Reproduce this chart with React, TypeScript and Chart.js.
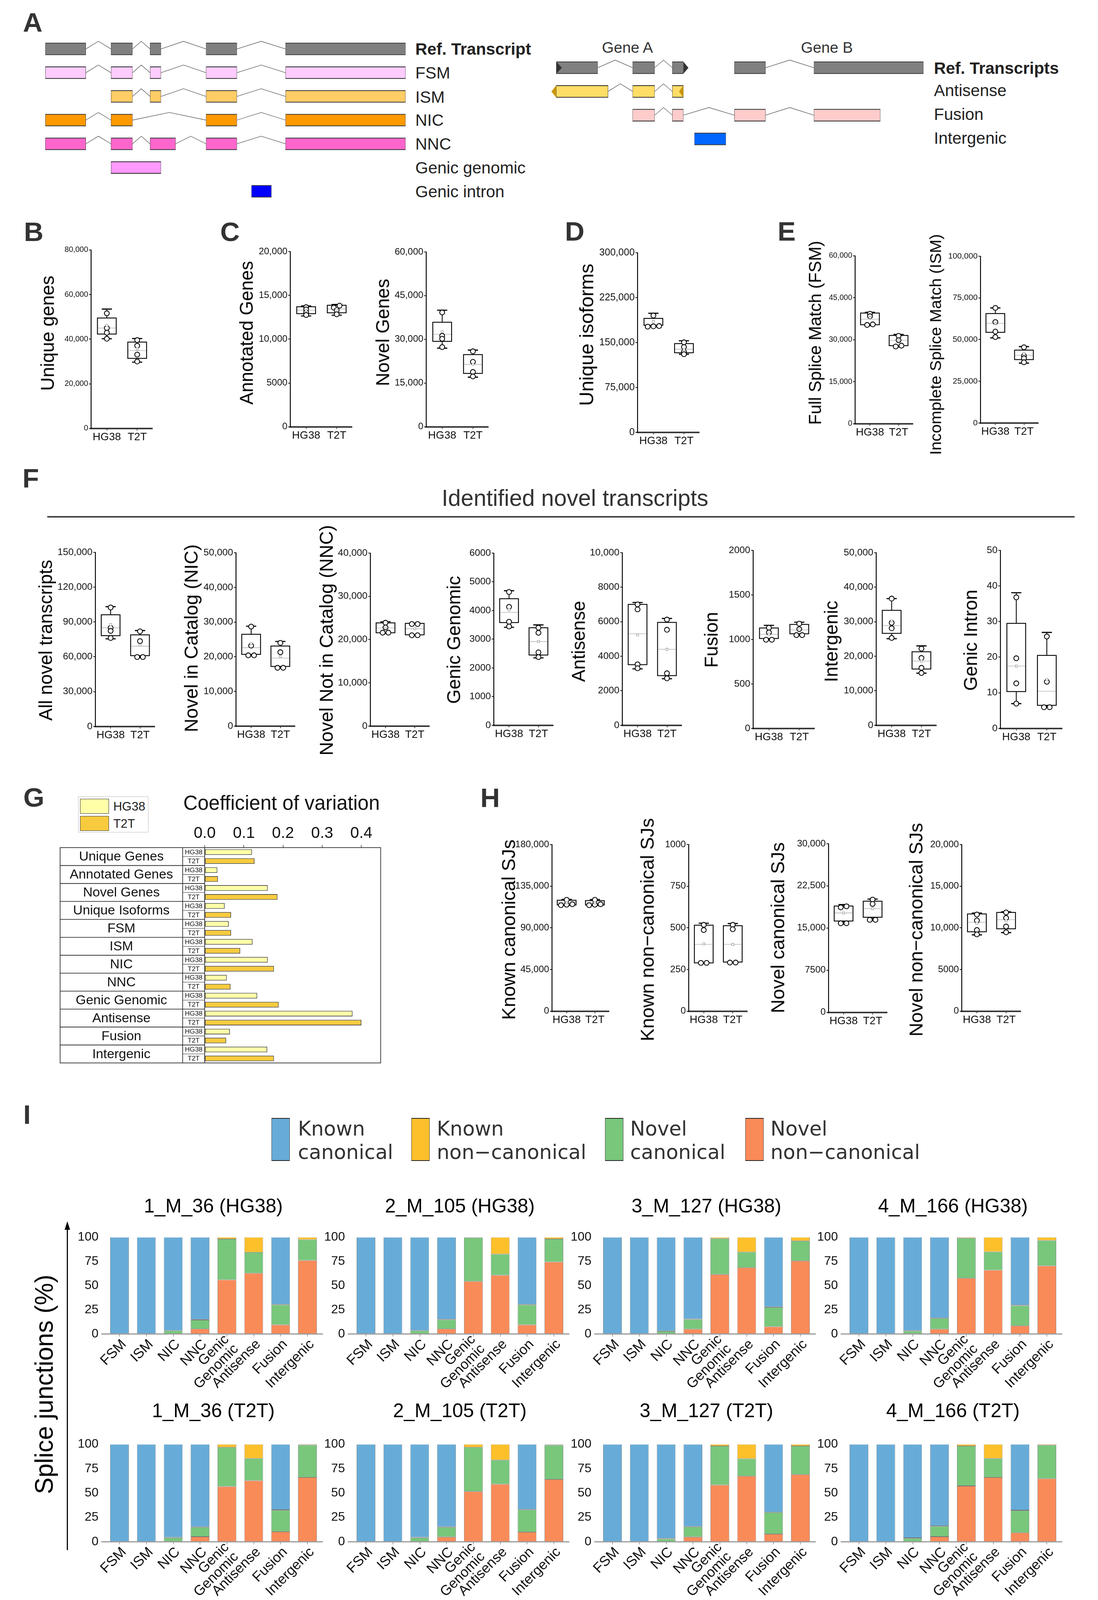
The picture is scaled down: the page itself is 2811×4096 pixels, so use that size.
import React, { useEffect, useRef } from 'react';
import { Chart, registerables } from 'chart.js';

Chart.register(...registerables);

const K = 2811 / 1076;
const px = (v: number) => v * K;
const SANS = '"Liberation Sans", Arial, Helvetica, sans-serif';
const DEJA = '"DejaVu Sans", "Liberation Sans", sans-serif';
Chart.defaults.font.family = SANS;
Chart.defaults.color = '#1a1a1a';

// ---------------- Panel A : transcript schematics (arbitrary genomic units) ----------------
const schemLeftRows = ['Ref. Transcript', 'FSM', 'ISM', 'NIC', 'NNC', 'Genic genomic', 'Genic intron'];
const schemLeftExons = [
  [[[0, 39.6], [64.3, 85.4], [102.6, 113.3], [157.5, 187.7], [235.4, 353]]],
  [[[0, 39.6], [64.3, 85.4], [102.6, 113.3], [157.5, 187.7], [235.4, 353]]],
  [[[64.3, 85.4], [102.6, 113.3], [157.5, 187.7], [235.4, 353]]],
  [[[0, 39.6], [64.3, 85.4], [157.5, 187.7], [235.4, 353]]],
  [[[0, 39.6], [64.3, 85.4], [102.6, 127.6], [157.5, 187.7], [235.4, 353]]],
  [[[64.3, 113.3]]],
  [[[202, 221.5]]],
];
const schemLeftColors = ['#808080', '#FFCCFF', '#FFCC66', '#FF9900', '#FF66CC', '#FF99FF', '#0000FF'];
const schemRightRows = ['Ref. Transcripts', 'Antisense', 'Fusion', 'Intergenic'];
const schemRightExons = [
  [[[5.1, 45.8], [80, 101.6], [118.9, 129.7]], [[179.8, 210.3], [257.7, 365]]],
  [[[5.1, 55.9], [80, 101.6], [118.9, 129.7]]],
  [[[80, 101.6], [118.9, 129.7], [179.8, 210.3], [257.7, 322.7]]],
  [[[140.6, 171.4]]],
];
const schemRightStrand = [['+', ''], ['-'], [''], ['']];
const schemRightColors = ['#808080', '#FFDD66', '#FFCCCC', '#0066FF'];
const geneNames = ['Gene A', 'Gene B'];

// ---------------- Box plot panels (B-F, H) ----------------
const BOX_GROUPS = ['HG38', 'T2T'];
const BOX_POS = [0.258, 0.755];

const uniqueGenesPts = [[51600, 45000, 42900, 40200], [39600, 37100, 33100, 30000]];
const uniqueGenesBox = [[40200, 42300, 45000, 49500, 53500], [29700, 31400, 34900, 38700, 40300]];
const uniqueGenesMean = [46200, 35600];

const annotatedGenesPts = [[13650, 13390, 13050, 12760], [13820, 13600, 13300, 12840]];
const annotatedGenesBox = [[12650, 12910, 13300, 13700, 13790], [12740, 13010, 13440, 13870, 13960]];
const annotatedGenesMean = [13300, 13440];

const novelGenesPts = [[39240, 31230, 30200, 27360], [25900, 22300, 18840, 17300]];
const novelGenesBox = [[27000, 29320, 31750, 35880, 40000], [17040, 18330, 21420, 24780, 26330]];
const novelGenesMean = [32630, 21420];

const isoformsPts = [[195100, 177000, 176500, 177500], [150300, 142400, 134500, 130500]];
const isoformsBox = [[176600, 178700, 179800, 190300, 198800], [130500, 132900, 138700, 148200, 152900]];
const isoformsMean = [185100, 138700];

const fsmPts = [[39300, 38400, 35500, 35300], [31400, 29860, 27900, 27600]];
const fsmBox = [[35100, 35380, 37350, 39550, 39830], [27440, 27890, 29800, 31550, 31900]];
const fsmMean = [38000, 29800];

const ismPts = [[69000, 60500, 54800, 51500], [45400, 40200, 38800, 36400]];
const ismBox = [[51000, 54350, 59700, 65600, 69000], [35900, 38000, 40600, 43670, 45800]];
const ismMean = [59700, 41600];

const allNovelPts = [[102500, 85000, 82300, 76200], [81900, 73500, 59800, 59800]];
const allNovelBox = [[75500, 78200, 85000, 96200, 103200], [59400, 61000, 69100, 78900, 82600]];
const allNovelMean = [87700, 70100];

const nicPts = [[28700, 23200, 20400, 20400], [24000, 21300, 16800, 16800]];
const nicBox = [[20360, 20680, 22600, 26470, 28800], [16700, 17200, 19600, 23080, 24400]];
const nicMean = [23800, 20100];

const nncPts = [[23900, 22800, 21600, 21600], [23600, 23600, 21000, 21000]];
const nncBox = [[21400, 21570, 22700, 23860, 24100], [21000, 21100, 22500, 23750, 23800]];
const nncMean = [22700, 22500];

const genicGenomicPts = [[4645, 4126, 3607, 3443], [3399, 3224, 2541, 2377]];
const genicGenomicBox = [[3415, 3579, 3934, 4410, 4689], [2350, 2448, 2918, 3399, 3497]];
const genicGenomicMean = [4016, 2918];

const antisensePts = [[7005, 6715, 3530, 3303], [6125, 5535, 3013, 2722]];
const antisenseBox = [[3267, 3512, 5300, 7005, 7114], [2695, 2877, 4401, 5962, 6189]];
const antisenseMean = [5236, 4401];

const fusionPts = [[1131, 1078, 996, 996], [1177, 1115, 1048, 1048]];
const fusionBox = [[996, 1010, 1057, 1128, 1158], [1048, 1063, 1107, 1168, 1193]];
const fusionMean = [1057, 1107];

const intergenicPts = [[36700, 29700, 28100, 25300], [22200, 19500, 16650, 15150]];
const intergenicBox = [[25100, 26630, 28900, 33300, 36700], [15100, 16300, 18600, 21300, 23000]];
const intergenicMean = [30260, 18600];

const genicIntronPts = [[36.8, 19.7, 12.65, 6.96], [25.8, 13.1, 5.95, 5.95]];
const genicIntronBox = [[6.96, 10.35, 17.5, 29.5, 38.1], [5.95, 6.48, 10.44, 20.5, 26.96]];
const genicIntronMean = [17.5, 13.7];

const knownCanPts = [[120300, 115500, 115000, 114500], [120300, 115500, 115000, 114500]];
const knownCanBox = [[114300, 114700, 117100, 119800, 120700], [114300, 114700, 117000, 119400, 120500]];
const knownCanMean = [117100, 117000];

const knownNonCanPts = [[518, 487, 290, 290], [518, 492, 292, 292]];
const knownNonCanBox = [[287, 290, 401, 516, 528], [292, 295, 401, 513, 526]];
const knownNonCanMean = [404, 401];

const novelCanPts = [[18860, 18680, 15850, 15850], [20060, 19290, 16460, 16460]];
const novelCanBox = [[15690, 16250, 17690, 18920, 19170], [16370, 16920, 18460, 19780, 20150]];
const novelCanMean = [17690, 18460];

const novelNonCanPts = [[11600, 10880, 9740, 9220], [11850, 11190, 10160, 9470]];
const novelNonCanBox = [[9160, 9530, 10670, 11670, 11770], [9430, 9890, 10980, 11850, 11920]];
const novelNonCanMean = [10560, 10820];

const boxPanels = [
  { title: 'Unique genes', ymax: 80000, step: 20000, pts: uniqueGenesPts, box: uniqueGenesBox, mean: uniqueGenesMean },
  { title: 'Annotated Genes', ymax: 20000, step: 5000, pts: annotatedGenesPts, box: annotatedGenesBox, mean: annotatedGenesMean },
  { title: 'Novel Genes', ymax: 60000, step: 15000, pts: novelGenesPts, box: novelGenesBox, mean: novelGenesMean },
  { title: 'Unique isoforms', ymax: 300000, step: 75000, pts: isoformsPts, box: isoformsBox, mean: isoformsMean },
  { title: 'Full Splice Match (FSM)', ymax: 60000, step: 15000, pts: fsmPts, box: fsmBox, mean: fsmMean },
  { title: 'Incomplete Splice Match (ISM)', ymax: 100000, step: 25000, pts: ismPts, box: ismBox, mean: ismMean },
  { title: 'All novel transcripts', ymax: 150000, step: 30000, pts: allNovelPts, box: allNovelBox, mean: allNovelMean },
  { title: 'Novel in Catalog (NIC)', ymax: 50000, step: 10000, pts: nicPts, box: nicBox, mean: nicMean },
  { title: 'Novel Not in Catalog (NNC)', ymax: 40000, step: 10000, pts: nncPts, box: nncBox, mean: nncMean },
  { title: 'Genic Genomic', ymax: 6000, step: 1000, pts: genicGenomicPts, box: genicGenomicBox, mean: genicGenomicMean },
  { title: 'Antisense', ymax: 10000, step: 2000, pts: antisensePts, box: antisenseBox, mean: antisenseMean },
  { title: 'Fusion', ymax: 2000, step: 500, pts: fusionPts, box: fusionBox, mean: fusionMean },
  { title: 'Intergenic', ymax: 50000, step: 10000, pts: intergenicPts, box: intergenicBox, mean: intergenicMean },
  { title: 'Genic Intron', ymax: 50, step: 10, pts: genicIntronPts, box: genicIntronBox, mean: genicIntronMean },
  { title: 'Known canonical SJs', ymax: 180000, step: 45000, pts: knownCanPts, box: knownCanBox, mean: knownCanMean },
  { title: 'Known non\u2212canonical SJs', ymax: 1000, step: 250, pts: knownNonCanPts, box: knownNonCanBox, mean: knownNonCanMean },
  { title: 'Novel canonical SJs', ymax: 30000, step: 7500, pts: novelCanPts, box: novelCanBox, mean: novelCanMean },
  { title: 'Novel non\u2212canonical SJs', ymax: 20000, step: 5000, pts: novelNonCanPts, box: novelNonCanBox, mean: novelNonCanMean },
];
// layout: [axisX, topTickY, zeroY, axisRightX, titleCX, titleCY, titleFont, tickFont] in reference-thumbnail units
const boxLayout = [
  [89.1, 245, 419.7, 148.8, 48.3, 326.5, 18.3, 7.6],
  [284.5, 246.5, 418.3, 344.6, 243, 326, 18.1, 9.2],
  [417.5, 247, 418.3, 478, 376.7, 325.6, 18.2, 9.2],
  [624.9, 247.5, 423.4, 685.2, 576.8, 328, 19.3, 9.6],
  [838, 250.6, 415.2, 894.4, 800.5, 326, 16.9, 7.5],
  [960.7, 250.9, 414.4, 1017, 918.2, 337.5, 15.9, 8.0],
  [93.6, 541.2, 712, 151.7, 46.3, 627.5, 18.2, 9.5],
  [231.1, 541.5, 711.3, 288.6, 188.8, 625.6, 18.4, 9.5],
  [362.9, 541.8, 711.3, 420.3, 321.3, 627.5, 18.4, 9.5],
  [483.9, 541.8, 710.5, 542, 446.4, 627, 18.2, 9.5],
  [610, 541.5, 710.8, 668, 568.5, 628.5, 18.1, 9.5],
  [738.2, 539.2, 713.6, 797.9, 698.8, 627, 18.2, 9.5],
  [858.6, 541.5, 710.8, 917.5, 816.1, 628.7, 18.2, 9.5],
  [980.5, 539.2, 713.6, 1040.9, 953, 627.5, 18.2, 9.5],
  [541, 827.6, 991.1, 596.6, 500, 911, 18.6, 9.2],
  [674.9, 827.6, 991.1, 732, 636.1, 911, 18.6, 9.2],
  [812, 826.7, 991.9, 869.2, 763.9, 909, 18.6, 9.2],
  [942.5, 827.6, 991.1, 1000, 899.2, 911, 18.6, 9.2],
];

// ---------------- Panel G : coefficient of variation ----------------
const cvCategories = ['Unique Genes', 'Annotated Genes', 'Novel Genes', 'Unique Isoforms', 'FSM', 'ISM', 'NIC', 'NNC', 'Genic Genomic', 'Antisense', 'Fusion', 'Intergenic'];
const cvHG38 = [0.1206, 0.0322, 0.161, 0.0509, 0.0614, 0.1221, 0.161, 0.0562, 0.1341, 0.3775, 0.0644, 0.1596];
const cvT2T = [0.1273, 0.0337, 0.1858, 0.0674, 0.0674, 0.0906, 0.1768, 0.0659, 0.1888, 0.4, 0.0547, 0.1768];
const cvTicks = [0, 0.1, 0.2, 0.3, 0.4];

// ---------------- Panel I : splice junction composition ----------------
const sjCategories = ['FSM', 'ISM', 'NIC', 'NNC', ['Genic', 'Genomic'], 'Antisense', 'Fusion', 'Intergenic'];
const sjSamples = ['1_M_36 (HG38)', '2_M_105 (HG38)', '3_M_127 (HG38)', '4_M_166 (HG38)', '1_M_36 (T2T)', '2_M_105 (T2T)', '3_M_127 (T2T)', '4_M_166 (T2T)'];
const sjKnownCanonical = [
  [100, 100, 96.5, 85, 0, 0, 69.4, 0],
  [100, 100, 96.5, 84.7, 0, 0, 69.4, 0],
  [100, 100, 96.9, 84.5, 0, 0, 72, 0],
  [100, 100, 96.5, 83.5, 0, 0, 70.2, 0],
  [100, 100, 95.5, 84.7, 0, 0, 67.1, 0],
  [100, 100, 95.4, 84.5, 0, 0, 66.8, 0.3],
  [100, 100, 96.5, 84.3, 0, 0, 69.6, 0],
  [100, 100, 96, 83.6, 0, 0, 67.5, 0],
];
const sjKnownNonCanonical = [
  [0, 0, 0, 0.5, 1.8, 15.5, 0.4, 2.4],
  [0, 0, 0, 0.5, 0.5, 17.4, 0.4, 1.8],
  [0, 0, 0.3, 0.4, 1.3, 15.3, 0.5, 3.8],
  [0, 0, 0.4, 0.3, 0.9, 15, 0.5, 3.3],
  [0, 0, 0.4, 0.4, 3.1, 14.5, 0.5, 0.8],
  [0, 0, 0.5, 0.6, 3.1, 16.1, 0.4, 0.5],
  [0, 0, 0.5, 0.4, 1.8, 14.8, 0.3, 1.8],
  [0, 0, 0.5, 0.5, 1.8, 14.5, 0.4, 0.9],
];
const sjNovelCanonical = [
  [0, 0, 3.5, 9.3, 42.2, 21.6, 20.7, 21.5],
  [0, 0, 3.5, 9.6, 45.1, 21.8, 20.7, 23.7],
  [0, 0, 2.8, 10.1, 37.2, 16.1, 20, 20.6],
  [0, 0, 3.1, 11.2, 41.4, 19, 20.9, 26.2],
  [0, 0, 4.1, 9.7, 40.2, 22.8, 22, 33.1],
  [0, 0, 4.1, 10, 45.3, 24.8, 22.8, 35.1],
  [0, 0, 3, 10.4, 39.9, 17.8, 22.1, 29.2],
  [0, 0, 3.5, 10.7, 40.9, 19.4, 22.8, 34.3],
];
const sjNovelNonCanonical = [
  [0, 0, 0, 5.2, 56, 62.9, 9.5, 76.1],
  [0, 0, 0, 5.2, 54.4, 60.8, 9.5, 74.5],
  [0, 0, 0, 5, 61.5, 68.6, 7.5, 75.6],
  [0, 0, 0, 5, 57.7, 66, 8.4, 70.5],
  [0, 0, 0, 5.2, 56.7, 62.7, 10.4, 66.1],
  [0, 0, 0, 4.9, 51.6, 59.1, 10, 64.1],
  [0, 0, 0, 4.9, 58.3, 67.4, 8, 69],
  [0, 0, 0, 5.2, 57.3, 66.1, 9.3, 64.8],
];
const sjSeriesNames = [['Known', 'canonical'], ['Known', 'non\u2212canonical'], ['Novel', 'canonical'], ['Novel', 'non\u2212canonical']];
const SJ_COLORS = ['#67ACD8', '#FDC02B', '#78C77B', '#F98B58'];

// ---------------- helpers ----------------
const baseOpts = () => ({
  animation: false,
  responsive: false,
  maintainAspectRatio: false,
  devicePixelRatio: 1,
  events: [],
  plugins: { legend: { display: false }, tooltip: { enabled: false }, title: { display: false } },
});

function ChartBox({ l, t, w, h, factory }: any) {
  const ref = useRef<HTMLCanvasElement | null>(null);
  useEffect(() => {
    if (!ref.current) return;
    const chart = new Chart(ref.current, factory());
    return () => chart.destroy();
  }, []);
  const W = Math.round(w), H = Math.round(h);
  return <canvas ref={ref} width={W} height={H} style={{ position: 'absolute', left: Math.round(l), top: Math.round(t), width: W, height: H }} />;
}

function Txt({ x, y, fs, children, bold = false, anchor = 'start', family = SANS, color = '#222' }: any) {
  return (
    <div style={{
      position: 'absolute', left: px(x), top: px(y) - 0.8465 * px(fs), fontFamily: family, fontSize: px(fs),
      lineHeight: `${px(fs)}px`, fontWeight: bold ? 700 : 400, color, whiteSpace: 'nowrap',
      transform: anchor === 'middle' ? 'translateX(-50%)' : undefined,
    }}>{children}</div>
  );
}

function VTxt({ cx, cy, fs, children, family = SANS }: any) {
  return (
    <div style={{
      position: 'absolute', left: px(cx - 0.09 * fs), top: px(cy), fontFamily: family, fontSize: px(fs),
      lineHeight: `${px(fs)}px`, color: '#000', whiteSpace: 'nowrap', transform: 'translate(-50%, -50%) rotate(-90deg)',
    }}>{children}</div>
  );
}

function jitter(vals: number[], thr: number, step: number) {
  const idx = vals.map((_, i) => i).sort((a, b) => vals[a] - vals[b]);
  const offs = vals.map(() => 0);
  let cluster = [idx[0]];
  const flush = () => { const n = cluster.length; cluster.forEach((k, j) => { offs[k] = (j - (n - 1) / 2) * step; }); };
  for (let t = 1; t < idx.length; t++) {
    if (vals[idx[t]] - vals[idx[t - 1]] < thr) cluster.push(idx[t]);
    else { flush(); cluster = [idx[t]]; }
  }
  flush();
  return offs;
}

const fmtTick = (v: number) => (v >= 10000 ? v.toLocaleString('en-US') : String(v));

// ---------------- schematic ----------------
function Schematic({ exons, colors, strands, xMin, xMax, left, top, pitch }: any) {
  const w = px(xMax - xMin), h = px(pitch * exons.length);
  const factory = () => {
    const flat = exons.map((r: any) => r.flat());
    const nMax = Math.max(...flat.map((r: any) => r.length));
    const datasets: any[] = [];
    for (let j = 0; j < nMax; j++) {
      datasets.push({
        data: flat.map((r: any) => (r[j] ? r[j] : null)),
        backgroundColor: colors,
        borderColor: '#3a3a3a',
        borderWidth: { top: px(0.85), bottom: px(0.85), left: px(0.35), right: px(0.35) },
        borderSkipped: false,
        barThickness: px(12),
        grouped: false,
      });
    }
    const intronPlugin = {
      id: 'introns',
      afterDatasetsDraw(chart: any) {
        const { ctx, scales: { x, y } } = chart;
        const half = px(6);
        ctx.save();
        ctx.strokeStyle = '#5a5a5a';
        ctx.lineWidth = px(0.5);
        exons.forEach((row: any, ri: number) => {
          const yc = y.getPixelForValue(ri);
          row.forEach((tx: any, ti: number) => {
            for (let k = 0; k + 1 < tx.length; k++) {
              const xa = x.getPixelForValue(tx[k][1]);
              const xb = x.getPixelForValue(tx[k + 1][0]);
              ctx.beginPath();
              ctx.moveTo(xa, yc);
              ctx.lineTo((xa + xb) / 2, yc - half - px(1.5));
              ctx.lineTo(xb, yc);
              ctx.stroke();
            }
            const st = strands && strands[ri] ? strands[ri][ti] : '';
            if (st) {
              const x0 = x.getPixelForValue(tx[0][0]);
              const x1 = x.getPixelForValue(tx[tx.length - 1][1]);
              const tri = (a: number, b: number, col: string) => {
                ctx.fillStyle = col;
                ctx.beginPath();
                ctx.moveTo(a, yc - half);
                ctx.lineTo(b, yc);
                ctx.lineTo(a, yc + half);
                ctx.closePath();
                ctx.fill();
              };
              if (st === '+') { tri(x0, x0 + px(5.5), '#333'); tri(x1, x1 + px(5), '#333'); }
              else { tri(x0, x0 - px(4.7), '#C8960C'); tri(x1, x1 - px(4.2), '#C8960C'); }
            }
          });
        });
        ctx.restore();
      },
    };
    return {
      type: 'bar',
      data: { labels: exons.map((_: any, i: number) => String(i)), datasets },
      options: {
        ...baseOpts(),
        indexAxis: 'y',
        layout: { padding: 0 },
        scales: {
          x: { type: 'linear', min: xMin, max: xMax, display: false },
          y: { type: 'category', display: false, offset: true },
        },
      },
      plugins: [intronPlugin],
    };
  };
  return <ChartBox l={px(left)} t={px(top)} w={w} h={h} factory={factory} />;
}

// ---------------- box plot ----------------
function BoxPlot({ spec, L }: any) {
  const [ax, tp, zr, rt] = L;
  const YW = px(46), PT = px(8), PR = px(4), XH = px(20);
  const l = Math.round(px(ax) - YW), t = Math.round(px(tp) - PT);
  const w = YW + px(rt - ax) + PR, h = PT + px(zr - tp) + XH;
  const factory = () => {
    const len = rt - ax;
    const thr = (spec.ymax * 2.2) / (zr - tp);
    const stepU = 5.6 / len;
    const pts: any[] = [];
    spec.pts.forEach((g: number[], gi: number) => {
      const offs = jitter(g, thr, stepU);
      g.forEach((v, k) => pts.push({ x: BOX_POS[gi] + offs[k], y: v }));
    });
    const means = spec.mean.map((m: number, i: number) => ({ x: BOX_POS[i], y: m }));
    const boxPlugin = {
      id: 'boxes',
      beforeDatasetsDraw(chart: any) {
        const { ctx, scales: { x, y } } = chart;
        const hw = px(9.2), cw = px(5);
        spec.box.forEach((s: number[], i: number) => {
          const cx = x.getPixelForValue(BOX_POS[i]);
          const [mn, q1, md, q3, mx] = s.map((v) => y.getPixelForValue(v));
          ctx.save();
          ctx.strokeStyle = '#000';
          ctx.lineWidth = px(0.8);
          ctx.beginPath();
          ctx.moveTo(cx, q3); ctx.lineTo(cx, mx);
          ctx.moveTo(cx, q1); ctx.lineTo(cx, mn);
          ctx.stroke();
          ctx.lineWidth = px(1.1);
          ctx.beginPath();
          ctx.moveTo(cx - cw, mx); ctx.lineTo(cx + cw, mx);
          ctx.moveTo(cx - cw, mn); ctx.lineTo(cx + cw, mn);
          ctx.stroke();
          ctx.fillStyle = '#fff';
          ctx.fillRect(cx - hw, q3, 2 * hw, q1 - q3);
          ctx.lineWidth = px(0.85);
          ctx.strokeRect(cx - hw, q3, 2 * hw, q1 - q3);
          ctx.strokeStyle = '#b8b8b8';
          ctx.lineWidth = px(0.6);
          ctx.beginPath();
          ctx.moveTo(cx - hw + px(0.5), md); ctx.lineTo(cx + hw - px(0.5), md);
          ctx.stroke();
          ctx.restore();
        });
      },
    };
    return {
      type: 'scatter',
      data: {
        datasets: [
          { data: means, pointStyle: 'rect', radius: px(1.5), backgroundColor: '#fff', borderColor: '#9a9a9a', borderWidth: px(0.5) },
          { data: pts, pointStyle: 'circle', radius: px(2.4), backgroundColor: '#fff', borderColor: '#000', borderWidth: px(0.8) },
        ],
      },
      options: {
        ...baseOpts(),
        layout: { padding: { top: PT, right: PR, left: 0, bottom: 0 } },
        scales: {
          x: {
            type: 'linear', min: 0, max: 1,
            afterBuildTicks: (s: any) => { s.ticks = BOX_POS.map((v) => ({ value: v })); },
            afterFit: (s: any) => { s.height = XH; },
            ticks: {
              autoSkip: false, maxRotation: 0, padding: px(0.2), color: '#111',
              font: { size: px(10.6) },
              callback: (v: number) => (Math.abs(v - BOX_POS[0]) < 1e-6 ? BOX_GROUPS[0] : BOX_GROUPS[1]),
            },
            grid: { display: true, drawOnChartArea: false, drawTicks: true, tickLength: px(2), color: '#333', lineWidth: px(0.7) },
            border: { display: true, color: '#3a3a3a', width: px(1.5) },
          },
          y: {
            type: 'linear', min: 0, max: spec.ymax,
            afterFit: (s: any) => { s.width = YW; },
            ticks: { stepSize: spec.step, padding: px(0.8), color: '#111', font: { size: px(L[7]) }, callback: (v: number) => fmtTick(v) },
            grid: { display: true, drawOnChartArea: false, drawTicks: true, tickLength: px(2), color: '#000', lineWidth: px(0.7) },
            border: { display: true, color: '#000', width: px(0.9) },
          },
        },
      },
      plugins: [boxPlugin],
    };
  };
  return <ChartBox l={l} t={t} w={w} h={h} factory={factory} />;
}

// ---------------- panel G ----------------
function CVChart() {
  const areaL = 200.6, areaR = 373, areaT = 830.5, areaB = 1041.5, tableL = 58.9, subW = 21.6;
  const PL = px(3), YW = px(areaL - tableL), TOP = 803;
  const l = px(tableL) - PL, t = px(TOP);
  const w = PL + YW + px(areaR - areaL) + px(4), h = px(areaT - TOP) + px(areaB - areaT) + px(3);
  const factory = () => {
    const tablePlugin = {
      id: 'cvtable',
      afterDraw(chart: any) {
        const { ctx, chartArea: a } = chart;
        const L0 = a.left - YW, Lm = a.left - px(subW);
        const n = cvCategories.length, rh = (a.bottom - a.top) / n;
        ctx.save();
        ctx.strokeStyle = '#333';
        ctx.lineWidth = px(0.7);
        ctx.strokeRect(L0, a.top, a.right - L0, a.bottom - a.top);
        ctx.beginPath();
        ctx.moveTo(Lm, a.top); ctx.lineTo(Lm, a.bottom);
        ctx.moveTo(a.left, a.top); ctx.lineTo(a.left, a.bottom);
        for (let i = 1; i < n; i++) { ctx.moveTo(L0, a.top + i * rh); ctx.lineTo(a.left, a.top + i * rh); }
        ctx.stroke();
        ctx.lineWidth = px(0.5);
        ctx.strokeStyle = '#555';
        ctx.beginPath();
        for (let i = 0; i < n; i++) { ctx.moveTo(Lm, a.top + (i + 0.5) * rh); ctx.lineTo(a.left, a.top + (i + 0.5) * rh); }
        ctx.stroke();
        ctx.fillStyle = '#111';
        ctx.textAlign = 'center';
        ctx.textBaseline = 'middle';
        ctx.font = `${px(13)}px ${SANS}`;
        cvCategories.forEach((c, i) => ctx.fillText(c, (L0 + Lm) / 2, a.top + (i + 0.5) * rh + px(0.5)));
        ctx.font = `${px(6.6)}px ${SANS}`;
        cvCategories.forEach((_, i) => {
          ctx.fillText('HG38', (Lm + a.left) / 2, a.top + (i + 0.25) * rh + px(0.3));
          ctx.fillText('T2T', (Lm + a.left) / 2, a.top + (i + 0.75) * rh + px(0.3));
        });
        ctx.restore();
      },
    };
    const ds = (data: number[], color: string) => ({
      data, backgroundColor: color, borderColor: '#333', borderWidth: px(0.6), borderSkipped: false,
      categoryPercentage: 1, barPercentage: 0.62,
    });
    return {
      type: 'bar',
      data: { labels: cvCategories, datasets: [ds(cvHG38, '#FFFFA8'), ds(cvT2T, '#F8CB3E')] },
      options: {
        ...baseOpts(),
        indexAxis: 'y',
        layout: { padding: { left: PL, right: px(4), top: 0, bottom: px(3) } },
        scales: {
          x: {
            type: 'linear', position: 'top', min: 0, max: (areaR - areaL) / 383.6,
            afterBuildTicks: (s: any) => { s.ticks = cvTicks.map((v) => ({ value: v })); },
            afterFit: (s: any) => { s.height = px(areaT - TOP); },
            ticks: { padding: px(2), color: '#111', font: { size: px(15.5) }, callback: (v: number) => v.toFixed(1) },
            grid: { display: true, drawOnChartArea: false, drawTicks: true, tickLength: px(2.5), color: '#444', lineWidth: px(0.6) },
            border: { display: false },
          },
          y: {
            type: 'category', offset: true,
            afterFit: (s: any) => { s.width = YW; },
            ticks: { display: false },
            grid: { display: false },
            border: { display: false },
          },
        },
      },
      plugins: [tablePlugin],
    };
  };
  return <ChartBox l={l} t={t} w={w} h={h} factory={factory} />;
}

// ---------------- panel I ----------------
const SJ_ROW_TOP = [1205.8, 1408.6];
const SJ_ROW_BOTTOM = [1307.3, 1510.9];
const SJ_LEFT0 = 103.9, SJ_PITCH_COL = 241.6, SJ_WIDTH = 210.3;

function SJChart({ k }: any) {
  const col = k % 4, row = Math.floor(k / 4);
  const aL = SJ_LEFT0 + col * SJ_PITCH_COL, aT = SJ_ROW_TOP[row], aB = SJ_ROW_BOTTOM[row];
  const YW = px(32), PT = px(8), PR = px(14), XH = px(80);
  const l = px(aL) - YW, t = px(aT) - PT;
  const w = YW + px(SJ_WIDTH) + PR, h = PT + px(aB - aT) + XH;
  const factory = () => {
    const series = [sjNovelNonCanonical[k], sjNovelCanonical[k], sjKnownNonCanonical[k], sjKnownCanonical[k]];
    const colors = [SJ_COLORS[3], SJ_COLORS[2], SJ_COLORS[1], SJ_COLORS[0]];
    const axisDecor = {
      id: 'axisDecor',
      afterDatasetsDraw(chart: any) {
        const { ctx, chartArea: a, scales: { x } } = chart;
        ctx.save();
        ctx.strokeStyle = '#9a9a9a';
        ctx.lineWidth = px(1.2);
        ctx.beginPath();
        ctx.moveTo(a.left - px(4.7), a.bottom);
        ctx.lineTo(a.right + px(2), a.bottom);
        ctx.stroke();
        const fs = px(13.8);
        const lh = fs * 0.95;
        ctx.fillStyle = '#111';
        ctx.font = `${fs}px ${SANS}`;
        ctx.textAlign = 'right';
        ctx.textBaseline = 'middle';
        sjCategories.forEach((c: any, i: number) => {
          const lines = Array.isArray(c) ? c : [c];
          const xt = x.getPixelForTick(i);
          ctx.save();
          ctx.translate(xt + px(4.5), a.bottom + px(8));
          ctx.rotate(-Math.PI / 4);
          lines.forEach((ln: string, j: number) => ctx.fillText(ln, 0, (j - (lines.length - 1) / 2) * lh));
          ctx.restore();
        });
        ctx.restore();
      },
    };
    return {
      type: 'bar',
      data: {
        labels: sjCategories,
        datasets: series.map((d, i) => ({
          data: d, backgroundColor: colors[i], borderColor: 'rgba(70,70,70,0.75)', borderWidth: px(0.35),
          borderSkipped: false, categoryPercentage: 1, barPercentage: 0.696,
        })),
      },
      options: {
        ...baseOpts(),
        layout: { padding: { top: PT, right: PR, left: 0, bottom: 0 } },
        scales: {
          x: {
            stacked: true,
            afterFit: (s: any) => { s.height = XH; },
            ticks: { display: false, autoSkip: false },
            grid: { display: true, offset: false, drawOnChartArea: false, drawTicks: true, tickLength: px(2.5), color: '#999', lineWidth: px(0.7) },
            border: { display: false },
          },
          y: {
            stacked: true, min: 0, max: 100,
            afterFit: (s: any) => { s.width = YW; },
            ticks: { stepSize: 25, padding: px(7.4), color: '#111', font: { size: px(12.2) } },
            grid: { display: false, drawTicks: false },
            border: { display: false },
          },
        },
      },
      plugins: [axisDecor],
    };
  };
  return <ChartBox l={l} t={t} w={w} h={h} factory={factory} />;
}

// ---------------- App ----------------
const LETTERS: [string, number, number][] = [
  ['A', 22.5, 31.3], ['B', 23.4, 236.5], ['C', 215.8, 236.3], ['D', 553.6, 236.2], ['E', 762, 236.2],
  ['F', 22, 478], ['G', 22.9, 790.8], ['H', 470.7, 791], ['I', 22.8, 1101.5],
];
const LEFT_ROW_CENTERS = [47.8, 71.2, 94.6, 117.5, 140.8, 164.2, 187.3];
const RIGHT_ROW_CENTERS = [66.3, 89.6, 112.8, 136.1];
const SJ_LEG_SWATCH = [266.2, 403.2, 593, 730.5];
const SJ_LEG_TEXT = [292, 428, 617.5, 755];

export default function App() {
  return (
    <div style={{ position: 'absolute', left: 0, top: 0, width: 2811, height: 4096, background: '#fff', overflow: 'hidden', fontFamily: SANS }}>
      {/* Panel A */}
      <Schematic exons={schemLeftExons} colors={schemLeftColors} strands={null} xMin={-2} xMax={356} left={42.4} top={36.2} pitch={23.25} />
      <Schematic exons={schemRightExons} colors={schemRightColors} strands={schemRightStrand} xMin={-6} xMax={370} left={534} top={54.67} pitch={23.27} />
      {schemLeftRows.map((r, i) => (
        <Txt key={'ll' + i} x={407} y={LEFT_ROW_CENTERS[i] + 6.2} fs={16.2} bold={i === 0} color="#222">{r}</Txt>
      ))}
      {schemRightRows.map((r, i) => (
        <Txt key={'rl' + i} x={915.2} y={RIGHT_ROW_CENTERS[i] + (i === 0 ? 6.3 : 5)} fs={16.2} bold={i === 0} color="#222">{r}</Txt>
      ))}
      <Txt x={614.9} y={51.6} fs={15} anchor="middle" color="#333">{geneNames[0]}</Txt>
      <Txt x={810.3} y={51.6} fs={15} anchor="middle" color="#333">{geneNames[1]}</Txt>

      {/* Box plots */}
      {boxPanels.map((p, i) => <BoxPlot key={'bp' + i} spec={p} L={boxLayout[i]} />)}
      {boxPanels.map((p, i) => (
        <VTxt key={'bt' + i} cx={boxLayout[i][4]} cy={boxLayout[i][5]} fs={boxLayout[i][6]}>{p.title}</VTxt>
      ))}

      {/* Panel F header */}
      <Txt x={563.5} y={496} fs={22.5} anchor="middle" color="#333">Identified novel transcripts</Txt>
      <div style={{ position: 'absolute', left: px(46.3), top: px(505.6), width: px(1053 - 46.3), height: px(1.6), background: '#444' }} />

      {/* Panel G */}
      <div style={{ position: 'absolute', left: px(76.4), top: px(780.6), width: px(69), height: px(35.2), border: `${px(0.4)}px solid #bbb`, boxSizing: 'border-box' }} />
      <div style={{ position: 'absolute', left: px(78.4), top: px(782.7), width: px(28.5), height: px(14.7), background: '#FFFFA8', border: `${px(0.6)}px solid #333`, boxSizing: 'border-box' }} />
      <div style={{ position: 'absolute', left: px(78.4), top: px(799.7), width: px(28.5), height: px(14.3), background: '#F8CB3E', border: `${px(0.6)}px solid #333`, boxSizing: 'border-box' }} />
      <Txt x={111} y={794.5} fs={12} color="#222">HG38</Txt>
      <Txt x={111} y={811.2} fs={12} color="#222">T2T</Txt>
      <Txt x={179.6} y={793.9} fs={19.5} color="#111">Coefficient of variation</Txt>
      <CVChart />

      {/* Panel I */}
      {SJ_LEG_SWATCH.map((x, i) => (
        <div key={'sw' + i} style={{
          position: 'absolute', left: px(x), top: px(1095.6), width: px(18), height: px(41.9), background: SJ_COLORS[i],
          borderTop: `${px(0.9)}px solid #222`, borderBottom: `${px(0.9)}px solid #222`, borderLeft: `${px(0.3)}px solid #444`, borderRight: `${px(0.3)}px solid #444`, boxSizing: 'border-box',
        }} />
      ))}
      {sjSeriesNames.map((nm, i) => (
        <React.Fragment key={'sn' + i}>
          <Txt x={SJ_LEG_TEXT[i]} y={1113} fs={19.6} family={DEJA} color="#333">{nm[0]}</Txt>
          <Txt x={SJ_LEG_TEXT[i]} y={1136} fs={19.6} family={DEJA} color="#333">{nm[1]}</Txt>
        </React.Fragment>
      ))}
      {sjSamples.map((s, k) => <SJChart key={'sj' + k} k={k} />)}
      {sjSamples.map((s, k) => (
        <Txt key={'st' + k} x={SJ_LEFT0 + (k % 4) * SJ_PITCH_COL + SJ_WIDTH / 2} y={k < 4 ? 1188.7 : 1389.1} fs={19} anchor="middle" color="#000">{s}</Txt>
      ))}
      <VTxt cx={45.5} cy={1356.6} fs={24.5}>Splice junctions (%)</VTxt>
      <svg style={{ position: 'absolute', left: px(60), top: px(1190) }} width={px(12)} height={px(335)}>
        <line x1={px(5.9)} y1={px(13)} x2={px(5.9)} y2={px(328.9)} stroke="#000" strokeWidth={px(1.1)} />
        <polygon points={`${px(5.9)},${px(6.7)} ${px(3.2)},${px(15)} ${px(8.6)},${px(15)}`} fill="#000" />
      </svg>

      {/* Panel letters */}
      {LETTERS.map(([s, x, y]) => (
        <Txt key={'L' + s} x={x} y={y} fs={26.5} bold color="#333">{s}</Txt>
      ))}
    </div>
  );
}
